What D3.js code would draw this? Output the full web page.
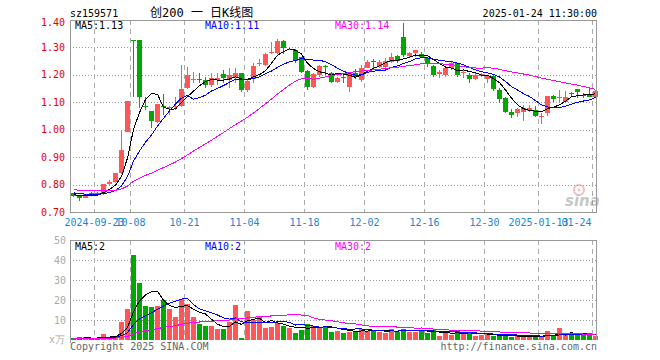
<!DOCTYPE html>
<html>
<head>
<meta charset="utf-8">
<script src="https://cdn.jsdelivr.net/npm/d3@7"></script>
<style>
  body { margin: 0; background: #fff; }
  text { font-family: "DejaVu Sans Mono", monospace; font-size: 10px; }
</style>
</head>
<body>
<div id="chart"></div>
<script>
// trading days shown (2024-09-13 .. 2025-01-24)
const dates = ["09-13","09-18","09-19","09-20","09-23","09-24","09-25","09-26","09-27","09-30",
  "10-08","10-09","10-10","10-11","10-14","10-15","10-16","10-17","10-18","10-21",
  "10-22","10-23","10-24","10-25","10-28","10-29","10-30","10-31","11-01","11-04",
  "11-05","11-06","11-07","11-08","11-11","11-12","11-13","11-14","11-15","11-18",
  "11-19","11-20","11-21","11-22","11-25","11-26","11-27","11-28","11-29","12-02",
  "12-03","12-04","12-05","12-06","12-09","12-10","12-11","12-12","12-13","12-16",
  "12-17","12-18","12-19","12-20","12-23","12-24","12-25","12-26","12-27","12-30",
  "12-31","01-02","01-03","01-06","01-07","01-08","01-09","01-10","01-13","01-14",
  "01-15","01-16","01-17","01-20","01-21","01-22","01-23","01-24"];

const open = [0.768,0.758,0.752,0.771,0.770,0.768,0.802,0.811,0.841,0.993,
  1.327,1.327,1.087,1.070,1.029,1.087,1.080,1.082,1.086,1.151,
  1.180,1.186,1.181,1.163,1.183,1.203,1.181,1.187,1.208,1.145,
  1.184,1.240,1.236,1.279,1.281,1.325,1.293,1.291,1.264,1.215,
  1.157,1.200,1.231,1.206,1.175,1.191,1.157,1.208,1.181,1.224,
  1.251,1.230,1.230,1.248,1.269,1.339,1.269,1.279,1.275,1.260,
  1.232,1.203,1.200,1.224,1.242,1.207,1.200,1.184,1.197,1.184,
  1.196,1.145,1.114,1.066,1.060,1.066,1.070,1.072,1.047,1.060,
  1.123,1.117,1.100,1.134,1.149,1.128,1.130,1.118];
const high = [0.770,0.760,0.766,0.773,0.772,0.803,0.818,0.843,1.000,1.105,
  1.327,1.327,1.118,1.070,1.095,1.130,1.085,1.120,1.236,1.230,
  1.212,1.208,1.193,1.205,1.205,1.218,1.224,1.224,1.208,1.181,
  1.242,1.256,1.281,1.321,1.330,1.327,1.297,1.295,1.266,1.218,
  1.206,1.236,1.236,1.212,1.193,1.200,1.212,1.220,1.236,1.254,
  1.257,1.254,1.260,1.278,1.272,1.388,1.285,1.291,1.284,1.266,
  1.236,1.218,1.230,1.248,1.244,1.218,1.206,1.206,1.206,1.200,
  1.200,1.151,1.120,1.074,1.078,1.090,1.090,1.086,1.062,1.123,
  1.127,1.145,1.142,1.139,1.149,1.133,1.151,1.145];
const low = [0.755,0.741,0.750,0.767,0.766,0.762,0.797,0.806,0.838,0.990,
  1.120,1.078,1.072,1.008,1.025,1.054,1.054,1.072,1.084,1.147,
  1.170,1.170,1.151,1.157,1.163,1.169,1.151,1.169,1.139,1.139,
  1.169,1.234,1.234,1.276,1.276,1.276,1.289,1.242,1.206,1.145,
  1.151,1.193,1.200,1.169,1.169,1.169,1.139,1.184,1.175,1.224,
  1.224,1.224,1.224,1.242,1.242,1.264,1.264,1.266,1.260,1.230,
  1.193,1.187,1.193,1.218,1.191,1.187,1.169,1.181,1.193,1.169,
  1.142,1.096,1.060,1.042,1.048,1.033,1.066,1.045,1.021,1.050,
  1.102,1.102,1.096,1.118,1.115,1.115,1.118,1.115];
const close = [0.757,0.751,0.764,0.769,0.768,0.801,0.811,0.841,0.926,1.105,
  1.322,1.118,1.083,1.030,1.094,1.083,1.084,1.088,1.147,1.200,
  1.185,1.182,1.163,1.187,1.187,1.187,1.200,1.206,1.145,1.179,
  1.232,1.243,1.276,1.282,1.325,1.297,1.293,1.252,1.212,1.157,
  1.203,1.232,1.229,1.175,1.190,1.189,1.208,1.193,1.224,1.248,
  1.249,1.248,1.252,1.266,1.252,1.272,1.281,1.291,1.264,1.242,
  1.200,1.212,1.224,1.244,1.200,1.209,1.184,1.200,1.203,1.196,
  1.149,1.111,1.066,1.054,1.074,1.078,1.080,1.050,1.049,1.123,
  1.111,1.119,1.118,1.132,1.139,1.126,1.120,1.141];
// volume, x万
const volume = [0.8,1.3,1.3,0.8,0.8,3.0,1.5,2.0,9.2,15.5,
  42.5,28.7,17.0,16.7,17.0,20.0,15.5,11.7,20.3,18.0,
  11.7,8.0,7.0,7.0,5.7,5.7,9.2,17.5,0.8,14.5,
  10.0,11.7,6.2,6.5,8.3,7.0,6.2,3.7,5.0,8.0,
  7.2,6.3,7.2,4.2,4.7,3.7,4.2,4.5,5.5,4.5,
  4.7,4.2,3.7,5.5,4.2,5.5,4.2,4.2,5.0,3.7,
  5.0,2.0,3.7,2.5,4.7,3.3,3.7,2.0,2.5,3.3,
  2.0,2.0,2.5,1.3,2.0,2.0,1.3,2.0,1.3,4.5,
  2.3,6.0,2.3,2.7,2.7,2.7,3.3,2.0];

// sessions before the visible window, only used to warm up the moving averages
const priorClose = [0.800,0.800,0.790,0.790,0.790,0.790,0.800,0.790,0.780,0.790,
  0.790,0.780,0.790,0.780,0.780,0.790,0.780,0.780,0.780,0.770,
  0.780,0.780,0.780,0.770,0.770,0.770,0.760,0.770,0.760];
const priorVolume = [1.0,0.9,0.8,0.9,1.1,0.8,0.9,0.7,0.8,0.9,
  1.0,0.8,0.8,0.9,0.7,0.8,0.9,0.8,0.8,0.7,
  0.9,0.8,0.8,0.9,0.8,0.7,0.8,0.9,0.8];

const priceTicks = [0.70,0.80,0.90,1.00,1.10,1.20,1.30,1.40];
const volTicks = [10,20,30,40,50];
const tickDates = ["09-23","10-08","10-21","11-04","11-18","12-02","12-16","12-30","01-13","01-24"];
const tickLabels = ["2024-09-23","10-08","10-21","11-04","11-18","12-02","12-16","12-30","2025-01-13","01-24"];

const RED = "#ff5757", GREEN = "#00a800";
const L = 70, R = 597, pTop = 20, pBot = 212, vTop = 240, vBot = 340;

const svg = d3.select("#chart").append("svg")
  .attr("width", 660).attr("height", 360);

const x = d3.scaleBand().domain(d3.range(dates.length)).range([L, L + 6 * dates.length]);
const y = d3.scaleLinear().domain([0.70, 1.40]).range([pBot, pTop]);
const yv = d3.scaleLinear().domain([0, 50]).range([vBot, vTop]);
const cx = i => x(i) + 3.5;

function movingAvg(series, prior, n) {
  const all = prior.concat(series);
  return series.map((_, i) => {
    const end = prior.length + i + 1;
    return d3.mean(all.slice(Math.max(0, end - n), end));
  });
}

// grid
const grid = svg.append("g").attr("shape-rendering", "crispEdges");
grid.selectAll(".hp").data(priceTicks.slice(1, -1)).enter().append("line")
  .attr("x1", L).attr("x2", R).attr("y1", d => Math.round(y(d)) + 0.5).attr("y2", d => Math.round(y(d)) + 0.5)
  .attr("stroke", "#999").attr("stroke-dasharray", "1,2");
grid.selectAll(".hv").data(volTicks.slice(0, -1)).enter().append("line")
  .attr("x1", L).attr("x2", R).attr("y1", d => yv(d) + 0.5).attr("y2", d => yv(d) + 0.5)
  .attr("stroke", "#999").attr("stroke-dasharray", "1,2");
tickDates.forEach(dt => {
  const gx = x(dates.indexOf(dt)) + 0.5;
  [[pTop, pBot], [vTop, vBot]].forEach(([a, b]) => {
    grid.append("line").attr("x1", gx).attr("x2", gx).attr("y1", a).attr("y2", b)
      .attr("stroke", "#aaa").attr("stroke-dasharray", "5,4");
  });
});

// candles
const candles = svg.append("g").attr("shape-rendering", "crispEdges");
const idx = d3.range(dates.length);
const col = i => close[i] >= open[i] ? RED : GREEN;
candles.selectAll(".wick").data(idx).enter().append("line")
  .attr("x1", cx).attr("x2", cx)
  .attr("y1", i => y(high[i])).attr("y2", i => y(low[i]))
  .attr("stroke", col);
candles.selectAll(".body").data(idx).enter().append("rect")
  .attr("x", i => x(i) + 1).attr("width", 5)
  .attr("y", i => y(Math.max(open[i], close[i])))
  .attr("height", i => Math.max(1, Math.abs(y(open[i]) - y(close[i]))))
  .attr("fill", col);

// volume bars
candles.selectAll(".vol").data(idx).enter().append("rect")
  .attr("x", i => x(i) + 1).attr("width", 5)
  .attr("y", i => yv(volume[i])).attr("height", i => vBot - yv(volume[i]))
  .attr("fill", col);

// moving averages
const maColors = [["#000", 5], ["#0000ff", 10], ["#ff00ff", 30]];
maColors.forEach(([c, n]) => {
  const pm = movingAvg(close, priorClose, n);
  const vm = movingAvg(volume, priorVolume, n);
  svg.append("path").datum(pm).attr("fill", "none").attr("stroke", c).attr("shape-rendering", "crispEdges")
    .attr("d", d3.line().x((d, i) => cx(i)).y(d => y(d)));
  svg.append("path").datum(vm).attr("fill", "none").attr("stroke", c).attr("shape-rendering", "crispEdges")
    .attr("d", d3.line().x((d, i) => cx(i)).y(d => yv(d)));
});

// frames
svg.append("rect").attr("x", L + 0.5).attr("y", pTop + 0.5).attr("width", R - L - 1).attr("height", pBot - pTop)
  .attr("fill", "none").attr("stroke", "#999").attr("shape-rendering", "crispEdges");
svg.append("path").attr("d", `M${L + 0.5},343V${vTop + 0.5}H${R - 0.5}V${vBot}`)
  .attr("fill", "none").attr("stroke", "#999").attr("shape-rendering", "crispEdges");

// axis labels
svg.selectAll(".pl").data(priceTicks).enter().append("text")
  .attr("x", 65).attr("y", d => Math.max(y(d) + 3.5, 25.5)).attr("text-anchor", "end")
  .attr("fill", "#e80000").text(d => d.toFixed(2));
svg.selectAll(".vl").data(volTicks).enter().append("text")
  .attr("x", 66).attr("y", d => yv(d) + 3.5).attr("text-anchor", "end")
  .attr("fill", "#aaa").text(d => d);
svg.append("text").attr("x", 65).attr("y", 343).attr("text-anchor", "end").attr("fill", "#aaa").text("x万");
tickDates.forEach((dt, k) => {
  const last = k === tickDates.length - 1;
  svg.append("text").attr("x", last ? 591.5 : x(dates.indexOf(dt)) + 0.5).attr("y", 225.5)
    .attr("text-anchor", last ? "end" : "middle").attr("fill", "#1a86d2").text(tickLabels[k]);
});

// header
svg.append("text").attr("x", 70).attr("y", 17).attr("fill", "#000").text("sz159571");
svg.append("text").attr("x", 150).attr("y", 17).style("font-size", "12px")
  .style("font-family", '"DejaVu Sans Mono", "Noto Sans CJK SC"').attr("fill", "#000").text("创200 一 日K线图");
svg.append("text").attr("x", 597).attr("y", 17).attr("text-anchor", "end").attr("fill", "#000").text("2025-01-24 11:30:00");

const maText = [["MA5:1.13", "#000", 75], ["MA10:1.11", "#0000ff", 205], ["MA30:1.14", "#ff00ff", 335]];
maText.forEach(([t, c, tx]) => svg.append("text").attr("x", tx).attr("y", 29).attr("fill", c).text(t));
const volMaText = [["MA5:2", "#000", 75], ["MA10:2", "#0000ff", 205], ["MA30:2", "#ff00ff", 335]];
volMaText.forEach(([t, c, tx]) => svg.append("text").attr("x", tx).attr("y", 250).attr("fill", c).text(t));

// footer
svg.append("text").attr("x", 70).attr("y", 349.5).attr("fill", "#666").text("Copyright 2025 SINA.COM");
svg.append("text").attr("x", 597).attr("y", 349.5).attr("text-anchor", "end").attr("fill", "#666").text("http://finance.sina.com.cn");

// sina watermark
const wm = svg.append("g").attr("opacity", 0.55);
wm.append("circle").attr("cx", 579).attr("cy", 190).attr("r", 5).attr("fill", "none").attr("stroke", "#e88").attr("stroke-width", 2);
wm.append("circle").attr("cx", 579).attr("cy", 190).attr("r", 1.5).attr("fill", "#e88");
wm.append("text").attr("x", 565).attr("y", 206).style("font-family", "DejaVu Sans").style("font-size", "15px")
  .style("font-style", "italic").style("font-weight", "bold").attr("fill", "#999").text("sina");
</script>
</body>
</html>
